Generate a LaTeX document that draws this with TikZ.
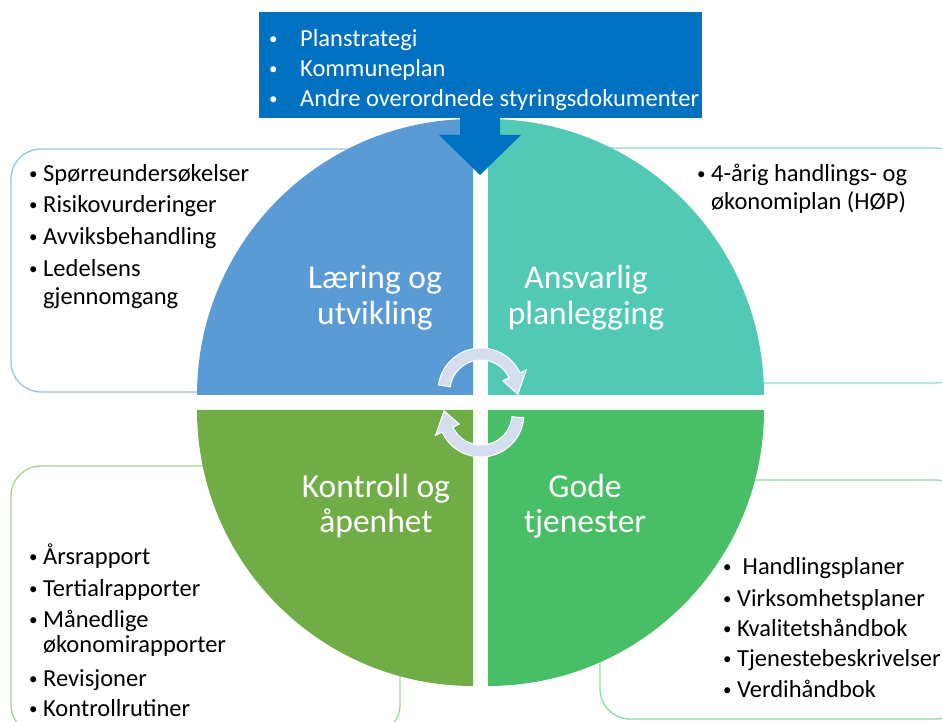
\documentclass[tikz,border=0pt]{standalone}
\usepackage{fontspec}
\setmainfont{Carlito}

\definecolor{planblue}{HTML}{0070C0}
\definecolor{learnblue}{HTML}{5B9BD5}
\definecolor{planteal}{HTML}{52C9B5}
\definecolor{ctrlgreen}{HTML}{70AD47}
\definecolor{servgreen}{HTML}{48BF67}
\definecolor{cyclefill}{HTML}{D5DEEF}
\definecolor{learnline}{HTML}{9DC3E6}
\definecolor{planline}{HTML}{8EDCCF}
\definecolor{ctrlline}{HTML}{A9D18E}
\definecolor{servline}{HTML}{8CDBA2}

\newcommand{\dotmark}{\raisebox{2pt}{\fontsize{17}{17}\selectfont\textbullet}}
\newcommand{\bul}{\makebox[14pt][l]{\dotmark}}
\newcommand{\wbul}{\makebox[31pt][l]{\dotmark}}

\tikzset{
  listbox/.style={rounded corners=30pt, line width=1.3pt, fill=white},
  listtxt/.style={anchor=base west, inner sep=0pt, font=\fontsize{24.5}{28}\selectfont},
  toptxt/.style={listtxt, text=white},
  quadtxt/.style={anchor=base, inner sep=0pt, text=white, font=\fontsize{33.5}{38}\selectfont}
}

\begin{document}
\begin{tikzpicture}[x=1pt,y=1pt]
\useasboundingbox (0,0) rectangle (942,722);

% boxes behind the circle
\draw[listbox, draw=learnline] (11,573) rectangle (470,330);
\draw[listbox, draw=planline] (490,574) rectangle (965,339);
\draw[listbox, draw=ctrlline] (11,256) rectangle (400,-13);
\draw[listbox, draw=servline] (600,242) rectangle (965,3);

% the four quarters
\fill[learnblue] (473,327) -- (197,327) arc[start angle=180, end angle=90, radius=276] -- cycle;
\fill[planteal] (488,327) -- (764,327) arc[start angle=0, end angle=90, radius=276] -- cycle;
\fill[ctrlgreen] (473,312) -- (197,312) arc[start angle=180, end angle=270, radius=276] -- cycle;
\fill[servgreen] (488,312) -- (764,312) arc[start angle=0, end angle=-90, radius=276] -- cycle;

% top box with arrow
\fill[planblue] (259,710) rectangle (702,604);
\fill[planblue] (460,605) -- (460,587) -- (439,587) -- (480,547) -- (521,587) -- (500,587) -- (500,605) -- cycle;

% cycle arrows
\begin{scope}[shift={(481,331)}]
\filldraw[cyclefill, draw=white, line width=1pt]
  (172:43) arc[start angle=172, end angle=25, radius=43] -- (25:50) -- (-5:37)
  -- (25:24) -- (25:31) arc[start angle=25, end angle=172, radius=31] -- cycle;
\end{scope}
\begin{scope}[shift={(481,308)}]
\filldraw[cyclefill, draw=white, line width=1pt]
  (-5:43) arc[start angle=-5, end angle=-155, radius=43] -- (-155:50) -- (-185:37)
  -- (-155:24) -- (-155:31) arc[start angle=-155, end angle=-5, radius=31] -- cycle;
\end{scope}

% top box text
\node[toptxt] (top1) at (269,675) {\wbul Planstrategi};
\node[toptxt] (top2) at (269,645) {\wbul Kommuneplan};
\node[toptxt] (top3) at (269,615) {\wbul Andre overordnede styringsdokumenter};

% quarter titles
\node[quadtxt] (learn1) at (375,433) {Læring og};
\node[quadtxt] (learn2) at (375,397) {utvikling};
\node[quadtxt] (plan1) at (586,433) {Ansvarlig};
\node[quadtxt] (plan2) at (586,397) {planlegging};
\node[quadtxt] (ctrl1) at (376,224) {Kontroll og};
\node[quadtxt] (ctrl2) at (376,189) {åpenhet};
\node[quadtxt] (serv1) at (585,224) {Gode};
\node[quadtxt] (serv2) at (585,189) {tjenester};

% learning list
\node[listtxt] (lrn1) at (29,540) {\bul Spørreundersøkelser};
\node[listtxt] (lrn2) at (29,509) {\bul Risikovurderinger};
\node[listtxt] (lrn3) at (29,477) {\bul Avviksbehandling};
\node[listtxt] (lrn4) at (29,445) {\bul Ledelsens};
\node[listtxt] (lrn5) at (43,417) {gjennomgang};

% planning list
\node[listtxt] (pln1) at (697,540) {\bul 4-årig handlings- og};
\node[listtxt] (pln2) at (711,512) {økonomiplan (HØP)};

% control list
\node[listtxt] (ctl1) at (29,157) {\bul Årsrapport};
\node[listtxt] (ctl2) at (29,125) {\bul Tertialrapporter};
\node[listtxt] (ctl3) at (29,94) {\bul Månedlige};
\node[listtxt] (ctl4) at (43,69) {økonomirapporter};
\node[listtxt] (ctl5) at (29,35) {\bul Revisjoner};
\node[listtxt] (ctl6) at (29,5) {\bul Kontrollrutiner};

% service list
\node[listtxt] (srv1) at (723,147) {\bul\ Handlingsplaner};
\node[listtxt] (srv2) at (723,115) {\bul Virksomhetsplaner};
\node[listtxt] (srv3) at (723,85) {\bul Kvalitetshåndbok};
\node[listtxt] (srv4) at (723,55) {\bul Tjenestebeskrivelser};
\node[listtxt] (srv5) at (723,24) {\bul Verdihåndbok};

\end{tikzpicture}
\end{document}
